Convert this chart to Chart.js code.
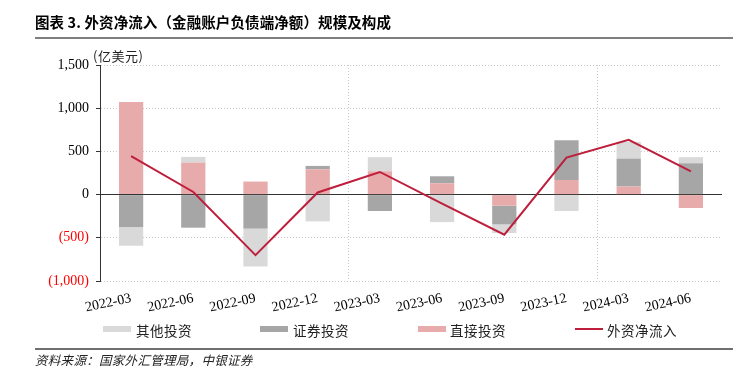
<!DOCTYPE html>
<html>
<head>
<meta charset="utf-8">
<script src="https://cdn.jsdelivr.net/npm/chart.js@4.4.1/dist/chart.umd.min.js"></script>
<style>
  body { margin: 0; background: #fff; }
  #wrap { position: relative; width: 747px; height: 377px; overflow: hidden; font-family: "Noto Sans CJK SC", sans-serif; }
  #c { position: absolute; left: 0; top: 0; }
  .abs { position: absolute; white-space: nowrap; }
  .title { left: 35px; top: 11px; font-size: 14.5px; font-weight: bold; color: #000; letter-spacing: 0.1px; }
  .rule { left: 35px; width: 698px; height: 2px; background: #7f7f7f; }
  .unit { left: 93px; top: 46px; font-size: 13px; color: #222; letter-spacing: 0.5px; }
  .lg { top: 320px; font-size: 13.5px; color: #222; letter-spacing: 0.5px; }
  .sw { top: 326px; width: 28px; height: 6px; }
  .src { left: 35px; top: 350px; font-size: 12.5px; font-style: italic; color: #222; letter-spacing: 0.3px; }
</style>
</head>
<body>
<div id="wrap">
  <canvas id="c" width="747" height="377"></canvas>
  <div class="abs title">图表 3. 外资净流入（金融账户负债端净额）规模及构成</div>
  <div class="abs rule" style="top:37px"></div>
  <div class="abs unit">(亿美元)</div>

  <div class="abs sw" style="left:103px;background:#d9d9d9"></div>
  <div class="abs lg" style="left:136px">其他投资</div>
  <div class="abs sw" style="left:260px;background:#a6a6a6"></div>
  <div class="abs lg" style="left:293px">证券投资</div>
  <div class="abs sw" style="left:418px;background:#e8abab"></div>
  <div class="abs lg" style="left:450px">直接投资</div>
  <div class="abs sw" style="left:575px;top:328px;height:2px;background:#be1e3c"></div>
  <div class="abs lg" style="left:607px">外资净流入</div>

  <div class="abs rule" style="top:348px;height:2px;background:#6f6f6f"></div>
  <div class="abs src">资料来源：国家外汇管理局，中银证券</div>
</div>
<script>
// quarterly foreign capital net inflow, 100m USD
var quarters = ['2022-03', '2022-06', '2022-09', '2022-12', '2023-03', '2023-06', '2023-09', '2023-12', '2024-03', '2024-06'];
var directInv = [1071, 371, 151, 293, 270, 131, -128, 170, 93, -155];
var securitiesInv = [-376, -383, -394, 39, -190, 81, -217, 460, 324, 363];
var otherInv = [-216, 65, -438, -310, 163, -318, -100, -190, 193, 70];
var netInflow = [444, 30, -700, 25, 262, -105, -464, 429, 633, 270];

function fmt(v) {
    var s = Math.abs(v).toLocaleString('en-US');
    return v < 0 ? '(' + s + ')' : s;
}

var ctx = document.getElementById('c').getContext('2d');
var chart = new Chart(ctx, {
    type: 'bar',
    data: {
        labels: quarters,
        datasets: [
            { label: '直接投资', data: directInv, backgroundColor: '#e8abab', order: 1 },
            { label: '证券投资', data: securitiesInv, backgroundColor: '#a6a6a6', order: 1 },
            { label: '其他投资', data: otherInv, backgroundColor: '#d9d9d9', order: 1 },
            {
                type: 'line', label: '外资净流入', data: netInflow, stack: 'net',
                borderColor: '#be1e3c', borderWidth: 2, pointRadius: 0, tension: 0, order: 0
            }
        ]
    },
    options: {
        responsive: false,
        animation: false,
        layout: { padding: { top: 65, right: 25, bottom: 0, left: 0 } },
        barPercentage: 0.39,
        categoryPercentage: 1,
        plugins: { legend: { display: false }, tooltip: { enabled: false } },
        scales: {
            x: {
                stacked: true,
                afterFit: function (s) { s.height = 96; },
                border: { display: false, dash: [1, 2] },
                grid: {
                    drawTicks: false,
                    color: function (c) { return (c.index === 4 || c.index === 8) ? '#c8c8c8' : 'rgba(0,0,0,0)'; }
                },
                ticks: {
                    autoSkip: false, minRotation: 12, maxRotation: 12, padding: 9,
                    color: '#000', font: { family: 'Liberation Serif', size: 14 }
                }
            },
            y: {
                stacked: true,
                min: -1000, max: 1500,
                afterFit: function (s) { s.width = 100; },
                border: {
                    display: true, color: '#333', width: 1,
                    dash: function (c) { return c.tick && c.tick.value === 0 ? [] : [1, 2]; }
                },
                grid: {
                    tickLength: 4, tickColor: '#333', tickBorderDash: [],
                    color: function (c) { return c.tick && c.tick.value === 0 ? '#333' : '#c8c8c8'; }
                },
                ticks: {
                    stepSize: 500, padding: 7,
                    callback: function (v) { return fmt(v); },
                    color: function (c) { return c.tick && c.tick.value < 0 ? '#ff0000' : '#000'; },
                    font: { family: 'Liberation Serif', size: 14 }
                }
            }
        }
    }
});
</script>
</body>
</html>
